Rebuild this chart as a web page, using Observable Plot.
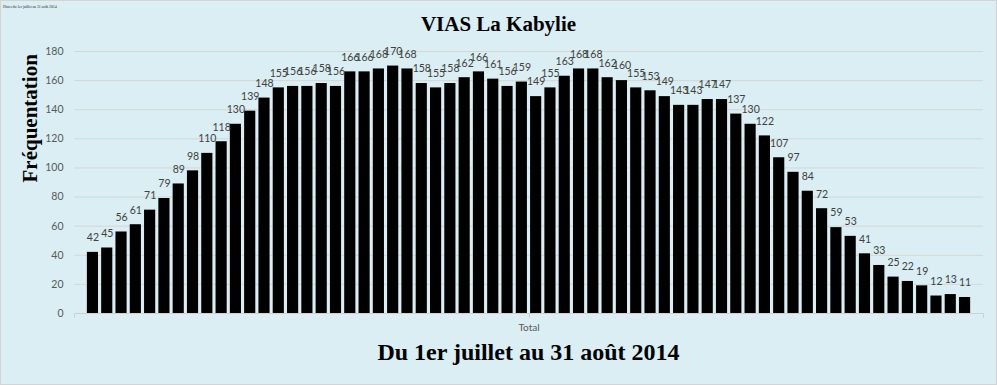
<!DOCTYPE html>
<html>
<head>
<meta charset="utf-8">
<script src="https://cdn.jsdelivr.net/npm/d3@7"></script>
<script src="https://cdn.jsdelivr.net/npm/@observablehq/plot@0.6"></script>
<style>
html, body { margin: 0; padding: 0; background: #ffffff; }
#chart { position: relative; width: 997px; height: 385px; box-sizing: border-box; border: 1px solid #d4d4d4; background: #daeef3; overflow: hidden; }
.tiny { position: absolute; left: 2px; top: 3px; font: 4px "Liberation Serif", serif; color: #333; white-space: nowrap; letter-spacing: -0.1px; }
.title { padding-top: 11px; height: 32px; text-align: center; font: bold 21px/24px "Liberation Serif", serif; color: #000; }
.subtitle { margin-top: -3px; padding-left: 73px; padding-right: 13px; text-align: center; font: bold 24px/28px "Liberation Serif", serif; color: #000; }
svg { display: block; }
</style>
</head>
<body>
<div id="chart">
  <div class="tiny" id="tiny"></div>
  <div class="title" id="title"></div>
  <div id="plot"></div>
  <div class="subtitle" id="subtitle"></div>
</div>
<script>
const cornerNote = "Dates du 1er juillet au 31 août 2014";
const chartTitle = "VIAS La Kabylie";
const subtitle = "Du 1er juillet au 31 août 2014";
const yLabel = "Fréquentation";
const categoryLabel = "Total";

const days = [
  "01/07","02/07","03/07","04/07","05/07","06/07","07/07","08/07","09/07","10/07",
  "11/07","12/07","13/07","14/07","15/07","16/07","17/07","18/07","19/07","20/07",
  "21/07","22/07","23/07","24/07","25/07","26/07","27/07","28/07","29/07","30/07","31/07",
  "01/08","02/08","03/08","04/08","05/08","06/08","07/08","08/08","09/08","10/08",
  "11/08","12/08","13/08","14/08","15/08","16/08","17/08","18/08","19/08","20/08",
  "21/08","22/08","23/08","24/08","25/08","26/08","27/08","28/08","29/08","30/08","31/08"
];

const visitors = [
  42, 45, 56, 61, 71, 79, 89, 98, 110, 118,
  130, 139, 148, 155, 156, 156, 158, 156, 166, 166,
  168, 170, 168, 158, 155, 158, 162, 166, 161, 156, 159,
  149, 155, 163, 168, 168, 162, 160, 155, 153, 149,
  143, 143, 147, 147, 137, 130, 122, 107, 97, 84,
  72, 59, 53, 41, 33, 25, 22, 19, 12, 13, 11
];

const yTicks = [0, 20, 40, 60, 80, 100, 120, 140, 160, 180];

document.getElementById("tiny").textContent = cornerNote;
document.getElementById("title").textContent = chartTitle;
document.getElementById("subtitle").textContent = subtitle;

const data = days.map((d, i) => ({day: d, value: visitors[i]}));

const axisTicks = (index, scales, values, dim) => {
  const y0 = scales.y(0);
  const left = dim.marginLeft, right = dim.width - dim.marginRight;
  const g = d3.create("svg:g").attr("stroke", "#d0d0d0").attr("stroke-width", 1);
  for (const x of [left, (left + right) / 2, right]) {
    g.append("line")
      .attr("x1", Math.round(x) + 0.5).attr("x2", Math.round(x) + 0.5)
      .attr("y1", y0).attr("y2", y0 + 5);
  }
  return g.node();
};

const plot = Plot.plot({
  width: 995,
  height: 297,
  marginLeft: 73,
  marginRight: 13,
  marginTop: 7,
  marginBottom: 28,
  style: {background: "transparent", fontFamily: "Lato, sans-serif", overflow: "visible"},
  x: {domain: days, paddingInner: 0.22, paddingOuter: 0.9, round: false, axis: null},
  y: {domain: [0, 180], axis: null},
  marks: [
    Plot.ruleY(yTicks.filter(t => t > 0), {stroke: "#d6d6d6", strokeWidth: 1}),
    Plot.axisY({ticks: yTicks, tickSize: 0, tickPadding: 11, fontSize: 10.5, color: "#595959", label: null}),
    Plot.barY(data, {x: "day", y: "value", fill: "#000000"}),
    Plot.ruleY([0], {stroke: "#d0d0d0", strokeWidth: 1}),
    axisTicks,
    Plot.text(data, {x: "day", y: "value", text: d => String(d.value), dy: -14.5, fontSize: 10.5, fill: "#404040"}),
    Plot.text([categoryLabel], {frameAnchor: "bottom", dy: 17, fontSize: 10, fill: "#595959"}),
    Plot.text([yLabel], {frameAnchor: "left", dx: -44, rotate: -90, fontSize: 21, fontWeight: "bold", fontFamily: "Liberation Serif, serif", fill: "#000000"})
  ]
});

document.getElementById("plot").appendChild(plot);
</script>
</body>
</html>
